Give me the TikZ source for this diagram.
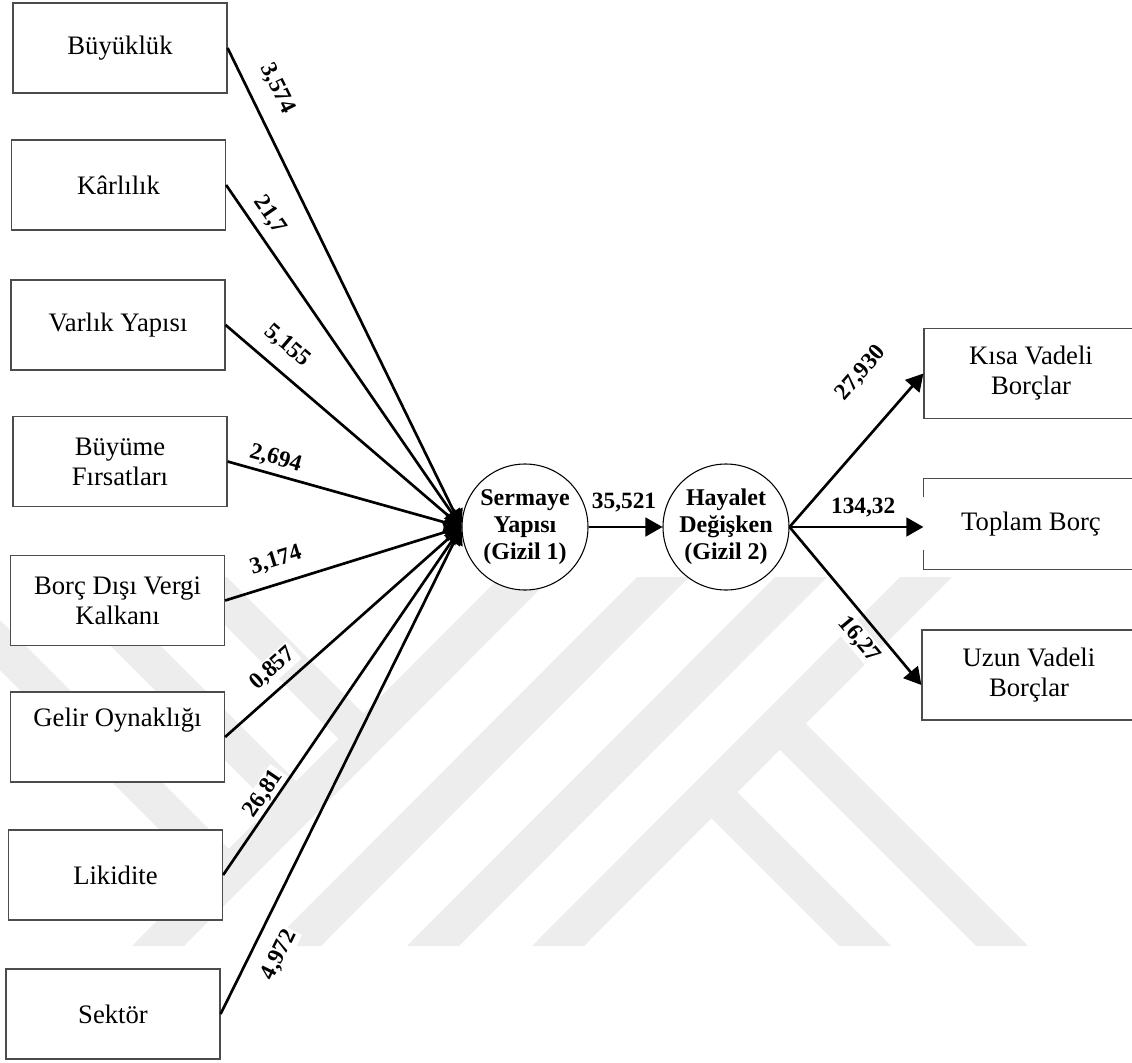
\documentclass[tikz,border=0pt]{standalone}
\usepackage{fontspec}
\setmainfont{Liberation Serif}
\usetikzlibrary{arrows.meta,calc}
\begin{document}
\begin{tikzpicture}[x=0.75pt,y=-0.75pt,
  box/.style={draw=black!70, line width=0.9pt, fill=white,
    minimum width=160.5pt, minimum height=67.5pt, inner sep=0pt,
    align=center, font=\fontsize{20}{22.5}\selectfont},
  latent/.style={circle, draw, line width=0.8pt, fill=white,
    minimum size=94.5pt, inner sep=0pt, align=center,
    font=\fontsize{18}{20.25}\selectfont\bfseries},
  conn/.style={line width=2pt, -{Triangle[length=12.75pt,width=14pt]}},
  coef/.style={font=\fontsize{17.5}{20}\selectfont\bfseries, sloped,
    fill=white, inner sep=1.5pt},
  wm/.style={fill=black!7, draw=none}
]
\useasboundingbox (0,0) rectangle (1132,1063);
\fill[white] (0,0) rectangle (1132,1063);

% background emblem: parallel bands
\fill[wm] (500,577) -- (552,577) -- (184,946) -- (132,946) -- cycle;
\fill[wm] (637,577) -- (689,577) -- (321,946) -- (269,946) -- cycle;
\fill[wm] (775,577) -- (827,577) -- (459,946) -- (407,946) -- cycle;
\fill[wm] (900,577) -- (952,577) -- (584,946) -- (532,946) -- cycle;
\fill[wm] (791,709) -- (1028,946) -- (976,946) -- (765,735) -- cycle;
\fill[wm] (722.5,777.5) -- (891,946) -- (839,946) -- (696.5,803.5) -- cycle;
\fill[wm] (177,577) -- (227,577) -- (375,725) -- (350,750) -- cycle;
\fill[wm] (42,577) -- (92,577) -- (307.5,792.5) -- (282.5,817.5) -- cycle;
\fill[wm] (0,620) -- (240,860) -- (215,885) -- (0,670) -- cycle;

% determinants
\node[box] (b1) at (120,48)    {Büyüklük};
\node[box] (b2) at (118.5,185) {Kârlılık};
\node[box] (b3) at (118,325)   {Varlık Yapısı};
\node[box] (b4) at (120,461.5) {Büyüme\\Fırsatları};
\node[box] (b5) at (117.5,600.5) {Borç Dışı Vergi\\Kalkanı};
\node[box] (b6) at (117.5,737) {Gelir Oynaklığı\\\strut};
\node[box] (b7) at (115.5,875) {Likidite};
\node[box] (b8) at (113,1014)  {Sektör};

% latent variables
\node[latent] (sy) at (525,527) {Sermaye\\Yapısı\\(Gizil 1)};
\node[latent] (hd) at (726,527) {Hayalet\\Değişken\\(Gizil 2)};

% debt indicators
\node[box] (kv) at (1031,373.5) {Kısa Vadeli\\Borçlar};
\node[box, draw=none] (tb) at (1031,524) {Toplam Borç};
\node[box] (uz) at (1029,675) {Uzun Vadeli\\Borçlar};
\draw[draw=black!70, line width=0.9pt]
  ($(tb.west)+(0,-27)$) -- (tb.north west) -- (tb.north east) -- (tb.south east)
  -- (tb.south west) -- ($(tb.west)+(0,26)$);

% path coefficients
\path (b1.east) -- node[coef, pos=.109, above, outer sep=11.6pt] {3,574} (sy.west);
\path (b2.east) -- node[coef, pos=.120, above, outer sep=5.5pt] {21,7} (sy.west);
\path (b3.east) -- node[coef, pos=.195, above, outer sep=9.8pt] {5,155} (sy.west);
\path (b4.east) -- node[coef, pos=.187, above, outer sep=3.2pt] {2,694} (sy.west);
\path (b5.east) -- node[coef, pos=.244, above, outer sep=8.6pt] {3,174} (sy.west);
\path (b6.east) -- node[coef, pos=.256, above, outer sep=5.9pt] {0,857} (sy.west);
\path (b7.east) -- node[coef, pos=.213, above, outer sep=0.5pt] {26,81} (sy.west);
\path (b8.east) -- node[coef, pos=.145, below, outer sep=11.2pt] {4,972} (sy.west);
\path (sy.east) -- node[coef, pos=.48, above, outer sep=10pt] {35,521} (hd.west);
\path (hd.east) -- node[coef, pos=.80, above, outer sep=26.7pt] {27,930} (kv.west);
\path (hd.east) -- node[coef, pos=.55, above, outer sep=6.2pt] {134,32} (tb.west |- hd.east);
\path (hd.east) -- node[coef, pos=.637, below, outer sep=5.6pt] {16,27} ($(uz.west)+(0,10)$);

% structural paths
\foreach \b in {b1,b2,b3,b4,b5,b6,b7,b8}
  \draw[conn] (\b.east) -- (sy.west);
\draw[conn] (sy) -- (hd);
\draw[conn] (hd.east) -- (kv.west);
\draw[conn] (hd.east) -- (tb.west |- hd.east);
\draw[conn] (hd.east) -- ($(uz.west)+(0,10)$);
\end{tikzpicture}
\end{document}
